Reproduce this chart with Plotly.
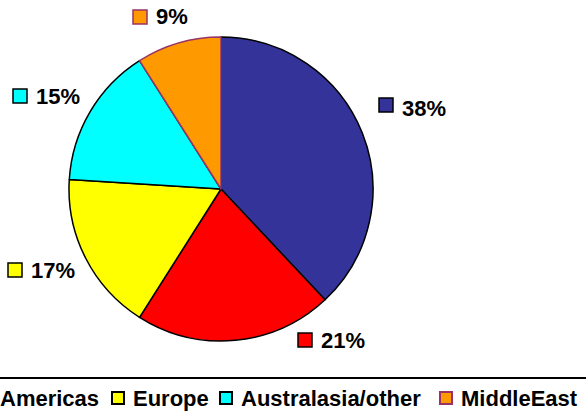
import plotly.graph_objects as go

# data
regions = ["Asia", "Americas", "Europe", "Australasia/other", "MiddleEast"]
shares = [38, 21, 17, 15, 9]
fill_colors = ["#333399", "#FF0000", "#FFFF00", "#00FFFF", "#FF9900"]
edge_colors = ["#000000", "#000000", "#000000", "#000000", "#993366"]

W, H = 586, 414
FONT = "Liberation Sans, Arial, sans-serif"


def px(x):
    return x / W


def py(y):
    return 1 - y / H


# pie circle in pixels: centre (221, 189), radius 152
cx, cy, r = 221, 189, 152

fig = go.Figure(
    go.Pie(
        labels=regions,
        values=shares,
        sort=False,
        direction="clockwise",
        rotation=0,
        textinfo="none",
        showlegend=False,
        marker=dict(colors=fill_colors, line=dict(color=edge_colors, width=1.5)),
        domain=dict(x=[px(cx - r), px(cx + r)], y=[py(cy + r), py(cy - r)]),
    )
)

shapes = []
annotations = []

# data labels: (box left, box top, text left, text centre y) in pixels
label_pos = [
    (379, 98, 400, 108),
    (298, 333, 319, 340),
    (8, 263, 29, 270),
    (13, 89, 34, 96),
    (133, 10, 154, 17),
]
box = 14
for i, (bx, by, tx, ty) in enumerate(label_pos):
    shapes.append(dict(
        type="rect", xref="paper", yref="paper",
        x0=px(bx), x1=px(bx + box), y0=py(by + box), y1=py(by),
        fillcolor=fill_colors[i], line=dict(color=edge_colors[i], width=1.5),
    ))
    annotations.append(dict(
        xref="paper", yref="paper", x=px(tx), y=py(ty),
        xanchor="left", yanchor="middle", showarrow=False,
        text="<b>%d%%</b>" % shares[i],
        font=dict(family=FONT, size=22, color="black"),
    ))

# legend: wider than the canvas, so its first entry falls off the left edge
legend_top = 378
shapes.append(dict(
    type="line", xref="paper", yref="paper",
    x0=px(-20), x1=px(W + 20), y0=py(legend_top), y1=py(legend_top),
    line=dict(color="black", width=2),
))
# (box left, text left) in pixels, entries from "Americas" on
legend_pos = [(-22, -2), (112, 131), (220, 239), (440, 459)]
lbox = 12
for i, (bx, tx) in enumerate(legend_pos, start=1):
    shapes.append(dict(
        type="rect", xref="paper", yref="paper",
        x0=px(bx), x1=px(bx + lbox), y0=py(392 + lbox), y1=py(392),
        fillcolor=fill_colors[i], line=dict(color=edge_colors[i], width=2),
    ))
    annotations.append(dict(
        xref="paper", yref="paper", x=px(tx), y=py(398),
        xanchor="left", yanchor="middle", showarrow=False,
        text="<b>%s</b>" % regions[i],
        font=dict(family=FONT, size=22, color="black"),
    ))

fig.update_layout(
    width=W, height=H,
    margin=dict(l=0, r=0, t=0, b=0),
    paper_bgcolor="white",
    plot_bgcolor="white",
    shapes=shapes,
    annotations=annotations,
)

# drop the page's default body margin so the figure sits at the window corner
fig.write_html(
    "out.html",
    config={"displayModeBar": False},
    post_script="document.body.style.margin='0';",
)
